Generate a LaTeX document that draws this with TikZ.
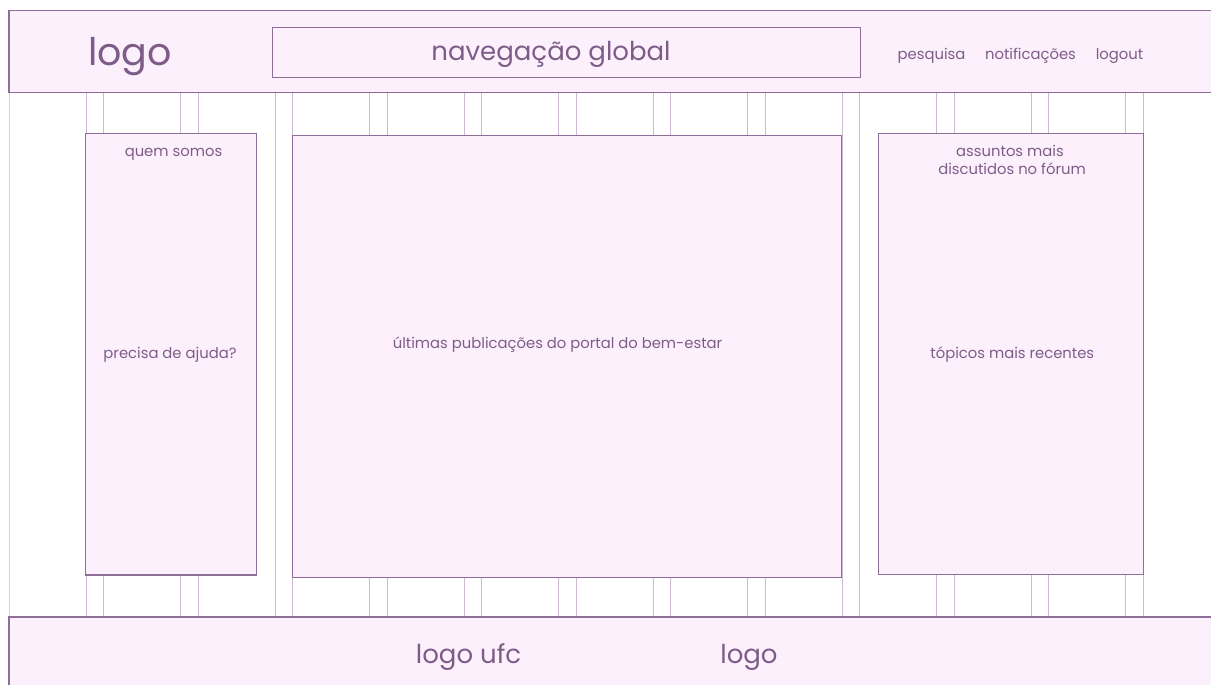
\documentclass[tikz,border=0pt]{standalone}
\usepackage{fontspec}
\setmainfont{Poppins}
\definecolor{panelfill}{HTML}{FCF0FD}
\definecolor{panelline}{HTML}{8E6E98}
\definecolor{gridline}{HTML}{CDBAD2}
\definecolor{edgeline}{HTML}{DAD0DC}
\definecolor{labeltext}{HTML}{7E5C88}
\tikzset{
  panel/.style={draw=panelline, fill=panelfill, line width=1.1pt},
  gutter/.style={draw=gridline, line width=1pt},
  label/.style={text=labeltext, anchor=base, inner sep=0pt},
  big/.style={label, font=\fontsize{38}{42}\selectfont},
  mid/.style={label, font=\fontsize{26}{30}\selectfont},
  small/.style={label, font=\fontsize{14.8}{18}\selectfont},
}
\begin{document}
\begin{tikzpicture}[x=1pt, y=-1pt]
  \useasboundingbox (0,0) rectangle (1211,685);
  \clip (0,0) rectangle (1211,685);

  % column gutters of the 12-column grid
  \draw[gutter, draw=edgeline] (9,92) -- (9,617);
  \foreach \k in {0,...,11} {
    \draw[gutter] ({86+94.5*\k},92) -- ({86+94.5*\k},617);
    \draw[gutter] ({103.5+94.5*\k},92) -- ({103.5+94.5*\k},617);
  }

  % header bar
  \draw[panel] (9,10.7) rectangle (1216,92.3);
  \node[panel, minimum width=588pt, minimum height=50.6pt, anchor=north west, inner sep=0pt] (nav) at (272.3,26.7) {};
  \node[big] (logotop) at (130,66) {logo};
  \node[mid] (navtext) at (551,61) {navegação global};
  \node[small] (search) at (931.5,59.5) {pesquisa};
  \node[small] (notif) at (1030.5,59.5) {notificações};
  \node[small] (logout) at (1119.5,59.5) {logout};

  % left column
  \draw[panel] (85.3,133.3) rectangle (256.7,575);
  \node[small] (about) at (173.5,156.7) {quem somos};
  \node[small] (help) at (170,358) {precisa de ajuda?};

  % main column
  \draw[panel] (292.3,135.3) rectangle (841.3,577.9);
  \node[small] (posts) at (557.5,348) {últimas publicações do portal do bem-estar};

  % right column
  \draw[panel] (878.5,133.3) rectangle (1143.3,574.5);
  \node[small] (forum1) at (1010,156.7) {assuntos mais};
  \node[small] (forum2) at (1012,174.3) {discutidos no fórum};
  \node[small] (recent) at (1012.3,358) {tópicos mais recentes};

  % footer bar
  \draw[panel] (9,617) rectangle (1216,690);
  \node[mid] (ufc) at (468.5,663) {logo ufc};
  \node[mid] (logobot) at (749,663) {logo};
\end{tikzpicture}
\end{document}
